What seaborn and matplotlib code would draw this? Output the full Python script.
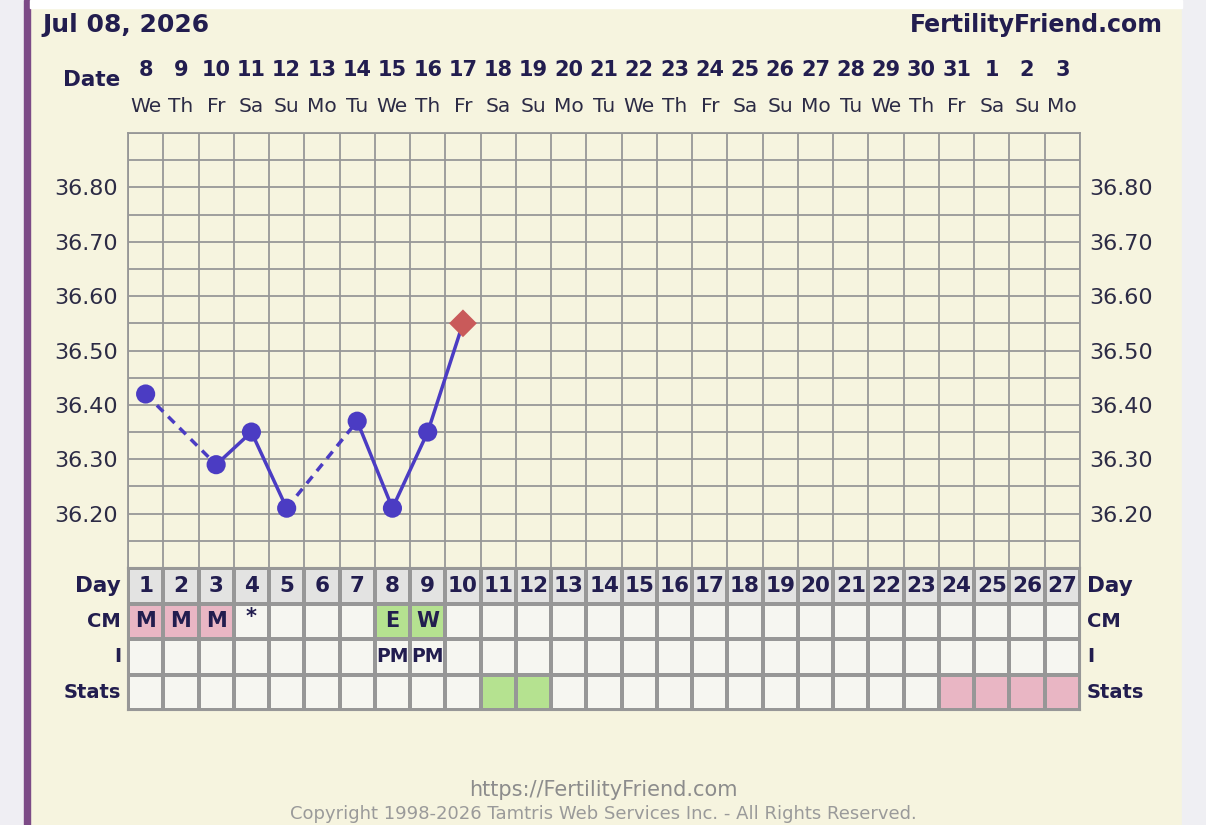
import numpy as np
import pandas as pd
import matplotlib
matplotlib.use('Agg')
import matplotlib.pyplot as plt
import seaborn as sns
from matplotlib.colors import ListedColormap
from matplotlib.patches import Rectangle

# chart values
cycle_days = list(range(1, 28))
date_nums = [8, 9, 10, 11, 12, 13, 14, 15, 16, 17, 18, 19, 20, 21, 22, 23, 24,
             25, 26, 27, 28, 29, 30, 31, 1, 2, 3]
weekdays = ['We', 'Th', 'Fr', 'Sa', 'Su', 'Mo', 'Tu'] * 3 + ['We', 'Th', 'Fr', 'Sa', 'Su', 'Mo']

temp_days = [1, 3, 4, 5, 7, 8, 9, 10]
temps = [36.42, 36.29, 36.35, 36.21, 36.37, 36.21, 36.35, 36.55]
temp_marker = ['o', 'o', 'o', 'o', 'o', 'o', 'o', 'D']

cm_labels = ['M', 'M', 'M', '*', '', '', '', 'E', 'W'] + [''] * 18
cm_fill = ['pink'] * 3 + [''] * 4 + ['green'] * 2 + [''] * 18
i_labels = [''] * 7 + ['PM', 'PM'] + [''] * 18
stats_fill = [''] * 10 + ['green', 'green'] + [''] * 11 + ['pink'] * 4

y_ticks = [36.20, 36.30, 36.40, 36.50, 36.60, 36.70, 36.80]

# colours
CREAM = '#F6F4DF'
GRID = '#979797'
NAVY = '#221D4F'
LINE = '#4B3CC3'
RED = '#C95A5A'
DAYGRAY = '#E3E3E2'
EMPTY = '#F6F6F1'
PINK = '#E9B6C4'
GREEN = '#B5E290'

W, H = 1206, 825


def fx(px):
    return px / W


def fy(py):
    return 1 - py / H


sns.set_theme(style='white')
plt.rcParams['font.family'] = ['DejaVu Sans']

fig = plt.figure(figsize=(W / 100, H / 100), dpi=100)
fig.patch.set_facecolor(CREAM)

# page decorations (side strips, purple bar, white top strip)
fig.patches.append(Rectangle((0, 0), fx(24), 1, transform=fig.transFigure,
                             color='#EFEEF3', zorder=0))
fig.patches.append(Rectangle((fx(24), 0), fx(6), 1, transform=fig.transFigure,
                             color='#7C4A86', zorder=0))
fig.patches.append(Rectangle((fx(1182), 0), 1 - fx(1182), 1, transform=fig.transFigure,
                             color='#EFEFF3', zorder=0))
fig.patches.append(Rectangle((fx(30), fy(8)), fx(1182) - fx(30), 8 / H,
                             transform=fig.transFigure, color='white', zorder=0))

# main temperature chart
ax = fig.add_axes([fx(128), fy(568), fx(1080) - fx(128), (568 - 133) / H])
ax.set_facecolor(CREAM)
ax.set_xlim(0.5, 27.5)
ax.set_ylim(36.10, 36.90)
ax.set_xticks([])
ax.set_xticks(np.arange(0.5, 27.6, 1), minor=True)
ax.set_yticks(y_ticks)
ax.set_yticklabels([f'{v:.2f}' for v in y_ticks])
ax.set_yticks(np.arange(36.10, 36.91, 0.05), minor=True)
ax.grid(which='both', color=GRID, lw=1.3)
ax.set_axisbelow(True)
ax.tick_params(which='both', length=0, labelleft=True, labelright=True,
               labelsize=16, labelcolor='#2C2B45', pad=7)
for s in ax.spines.values():
    s.set_color(GRID)
    s.set_linewidth(1.3)

# lines: dashed across missing days
for i in range(len(temp_days) - 1):
    gap = temp_days[i + 1] - temp_days[i] > 1
    ax.plot(temp_days[i:i + 2], temps[i:i + 2], color=LINE, lw=2.5,
            ls=(0, (2.6, 2.0)) if gap else '-', zorder=2)

pts = pd.DataFrame({'day': temp_days, 'temp': temps, 'kind': temp_marker})
circ = pts[pts['kind'] == 'o']
dia = pts[pts['kind'] == 'D']
sns.scatterplot(data=circ, x='day', y='temp', ax=ax, s=190, color=LINE,
                edgecolor='none', zorder=3, legend=False)
sns.scatterplot(data=dia, x='day', y='temp', ax=ax, s=200, marker='D', color=RED,
                edgecolor='none', zorder=3, legend=False)
ax.set_xlabel('')
ax.set_ylabel('')

# date header
tr = ax.get_xaxis_transform()
for d, n, w in zip(cycle_days, date_nums, weekdays):
    ax.text(d, 1.145, str(n), transform=tr, ha='center', va='center',
            fontsize=15, fontweight='bold', color=NAVY)
    ax.text(d, 1.062, w, transform=tr, ha='center', va='center',
            fontsize=14.5, color='#2C2B45')

# lower table
row_names = ['Day', 'CM', 'I', 'Stats']
code = {'': 0, 'pink': 2, 'green': 3}
codes = pd.DataFrame([[1] * 27,
                      [code[c] for c in cm_fill],
                      [0] * 27,
                      [code[c] for c in stats_fill]],
                     index=row_names, columns=cycle_days)

tax = fig.add_axes([fx(128), fy(710), fx(1080) - fx(128), (710 - 568) / H])
sns.heatmap(codes, ax=tax, cmap=ListedColormap([EMPTY, DAYGRAY, PINK, GREEN]),
            vmin=-0.5, vmax=3.5, cbar=False, linewidths=1.5, linecolor=GRID,
            xticklabels=False, yticklabels=False)
for s in tax.spines.values():
    s.set_visible(True)
    s.set_color(GRID)
    s.set_linewidth(1.5)

labels = [[str(d) for d in cycle_days], cm_labels, i_labels, [''] * 27]
sizes = [15.5, 15, 13.5, 13]
for r, row in enumerate(labels):
    for j, lab in enumerate(row):
        if lab:
            yy = r + 0.5 - (0.12 if lab == '*' else 0)
            tax.text(j + 0.5, yy, lab, ha='center', va='center',
                     fontsize=sizes[r], fontweight='bold', color=NAVY)

for r, name in enumerate(row_names):
    fs = 15.5 if name == 'Day' else 14
    tax.text(-0.2, r + 0.5, name, ha='right', va='center', fontsize=fs,
             fontweight='bold', color=NAVY)
    tax.text(27.2, r + 0.5, name, ha='left', va='center', fontsize=fs,
             fontweight='bold', color=NAVY)

# header and footer text
fig.text(fx(42), fy(25), 'Jul 08, 2026', ha='left', va='center', fontsize=18,
         fontweight='bold', color=NAVY)
fig.text(fx(1163), fy(25), 'FertilityFriend.com', ha='right', va='center',
         fontsize=17, fontweight='bold', color=NAVY)
fig.text(fx(120), fy(80), 'Date', ha='right', va='center', fontsize=15.5,
         fontweight='bold', color=NAVY)
fig.text(0.5, fy(790), 'https://FertilityFriend.com', ha='center', va='center',
         fontsize=15, color='#8C8C8C')
fig.text(0.5, fy(814), 'Copyright 1998-2026 Tamtris Web Services Inc. - All Rights Reserved.',
         ha='center', va='center', fontsize=13, color='#9A9A9A')

fig.savefig('out.png', dpi=100, facecolor=fig.get_facecolor())
